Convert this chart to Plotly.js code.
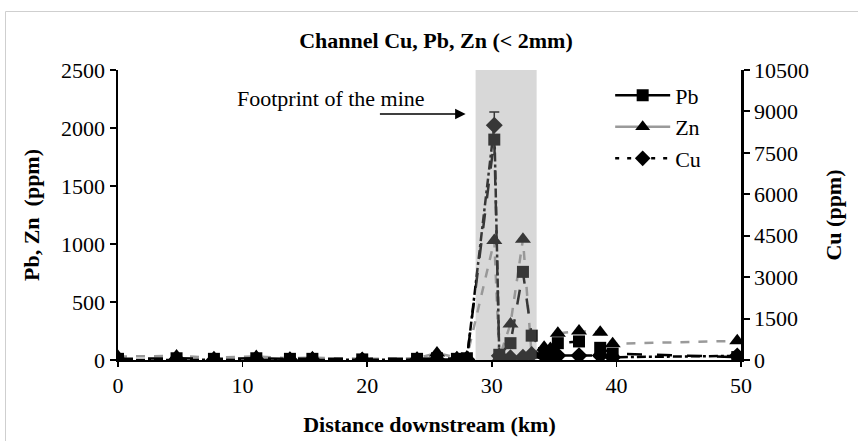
<!DOCTYPE html>
<html>
<head>
<meta charset="utf-8">
<script src="https://cdn.plot.ly/plotly-3.0.1.min.js"></script>
<style>html,body{margin:0;padding:0;background:#fff;}#chart{width:858px;height:441px;}</style>
</head>
<body>
<div id="chart"></div>
<script>
// Distance downstream (km)
const distance = [0, 4.7, 7.7, 11.1, 13.8, 15.6, 19.6, 24, 25.6, 27.2, 28, 30.2, 30.6, 31.5, 32.5, 33.2, 34.2, 34.7, 35.3, 37, 38.7, 39.7, 49.7];
// Pb (ppm), left axis
const pb = [10, 15, 10, 15, 10, 10, 5, 10, 15, 10, 15, 1900, 45, 145, 760, 210, 60, 50, 145, 160, 105, 55, 25];
// Zn (ppm), left axis
const zn = [30, 35, 20, 30, 15, 20, 10, 15, 60, 20, 25, 1030, 20, 310, 1040, 40, 110, 100, 230, 250, 240, 140, 165];
// Cu (ppm), right axis
const cu = [0, 10, 0, 10, 0, 0, 0, 0, 20, 10, 20, 8500, 150, 80, 100, 200, 150, 200, 160, 160, 160, 100, 150];
// Cu error (upper) at the peak
const cuErrPlus = [0, 0, 0, 0, 0, 0, 0, 0, 0, 0, 0, 480, 0, 0, 0, 0, 0, 0, 0, 0, 0, 0, 0];
// Mine footprint extent (km)
const mineStart = 28.7, mineEnd = 33.6;

const leftTicks = [0, 500, 1000, 1500, 2000, 2500];
const rightTicks = [0, 1500, 3000, 4500, 6000, 7500, 9000, 10500];
const xTicks = [0, 10, 20, 30, 40, 50];

const serif = "Liberation Serif, Times New Roman, serif";
const FS = 22;

const traces = [
  {x: distance, y: zn, yaxis: 'y', mode: 'lines+markers', name: 'Zn', showlegend: false,
   line: {color: '#9a9a9a', width: 2.5, dash: 'dash'},
   marker: {symbol: 'triangle-up', size: 14, color: '#000'}},
  {x: distance, y: pb, yaxis: 'y', mode: 'lines+markers', name: 'Pb', showlegend: false,
   line: {color: '#000', width: 2.5, dash: 'longdash'},
   marker: {symbol: 'square', size: 12, color: '#000'}},
  {x: distance, y: cu, yaxis: 'y2', mode: 'lines+markers', name: 'Cu', showlegend: false,
   line: {color: '#000', width: 2.5, dash: 'dashdot'},
   marker: {symbol: 'diamond', size: 13, color: '#000'},
   error_y: {type: 'data', symmetric: false, array: cuErrPlus, arrayminus: cuErrPlus.map(() => 0), color: '#000', thickness: 1.5, width: 5}},
  // legend entries
  {x: [null], y: [null], yaxis: 'y', mode: 'lines+markers', name: 'Pb',
   line: {color: '#000', width: 2.5}, marker: {symbol: 'square', size: 12, color: '#000'}},
  {x: [null], y: [null], yaxis: 'y', mode: 'lines+markers', name: 'Zn',
   line: {color: '#9a9a9a', width: 2.5}, marker: {symbol: 'triangle-up', size: 13, color: '#000'}},
  {x: [null], y: [null], yaxis: 'y', mode: 'lines+markers', name: 'Cu',
   line: {color: '#000', width: 2.5, dash: '4px,8px'}, marker: {symbol: 'diamond', size: 12, color: '#000'}}
];

const layout = {
  width: 858, height: 441,
  margin: {l: 118, r: 117, t: 70, b: 81},
  paper_bgcolor: '#fff', plot_bgcolor: '#fff',
  font: {family: serif, size: FS, color: '#000'},
  title: {text: '<b>Channel Cu, Pb, Zn (< 2mm)</b>', font: {family: serif, size: FS, color: '#000'},
          x: 436/858, xref: 'container', xanchor: 'center', y: 1 - 40/441, yref: 'container', yanchor: 'middle'},
  xaxis: {range: [0, 50], tickvals: xTicks, ticks: 'outside', ticklen: 5, tickwidth: 1.5, tickcolor: '#000',
          showline: true, linecolor: '#000', linewidth: 2, showgrid: false, zeroline: false,
          title: {text: '<b>Distance downstream (km)</b>', font: {family: serif, size: FS}, standoff: 19}},
  yaxis: {range: [0, 2500], tickvals: leftTicks, ticks: 'outside', ticklen: 6, tickwidth: 2, tickcolor: '#000',
          showline: true, linecolor: '#000', linewidth: 2.5, showgrid: false, zeroline: false,
          title: {text: '<b>Pb, Zn  (ppm)</b>', font: {family: serif, size: FS}, standoff: 16}},
  yaxis2: {range: [0, 10500], tickvals: rightTicks, tickformat: 'd', overlaying: 'y', side: 'right', ticks: 'outside', ticklen: 6, tickwidth: 2, tickcolor: '#000',
           showline: true, linecolor: '#000', linewidth: 2.5, showgrid: false, zeroline: false,
           title: {text: '<b>Cu (ppm)</b>', font: {family: serif, size: FS}, standoff: 18}},
  legend: {x: 0.79, y: 0.985, xanchor: 'left', yanchor: 'top', bgcolor: 'rgba(0,0,0,0)',
           font: {family: serif, size: FS}, itemwidth: 55, tracegroupgap: 0},
  shapes: [
    {type: 'rect', xref: 'x', yref: 'paper', x0: mineStart, x1: mineEnd, y0: 0, y1: 1,
     fillcolor: 'rgba(150,150,150,0.37)', line: {width: 0}, layer: 'above'},
    {type: 'rect', xref: 'paper', yref: 'paper', x0: (5.5 - 118) / 623, x1: 1.3, y0: -0.4, y1: (360 - 11.5) / 290,
     fillcolor: 'rgba(0,0,0,0)', line: {color: '#cfcfcf', width: 1}, layer: 'below'}
  ],
  annotations: [
    {x: 17.1, y: 2255, xref: 'x', yref: 'y', text: 'Footprint of the mine', showarrow: false,
     font: {family: serif, size: 22, color: '#000'}, xanchor: 'center', yanchor: 'middle'},
    {x: 27.9, y: 2121, xref: 'x', yref: 'y', ax: 20.9, ay: 2121, axref: 'x', ayref: 'y', text: '',
     showarrow: true, arrowhead: 2, arrowsize: 1.4, arrowwidth: 1.5, arrowcolor: '#000'}
  ]
};

Plotly.newPlot('chart', traces, layout, {displayModeBar: false, staticPlot: true});
</script>
</body>
</html>
